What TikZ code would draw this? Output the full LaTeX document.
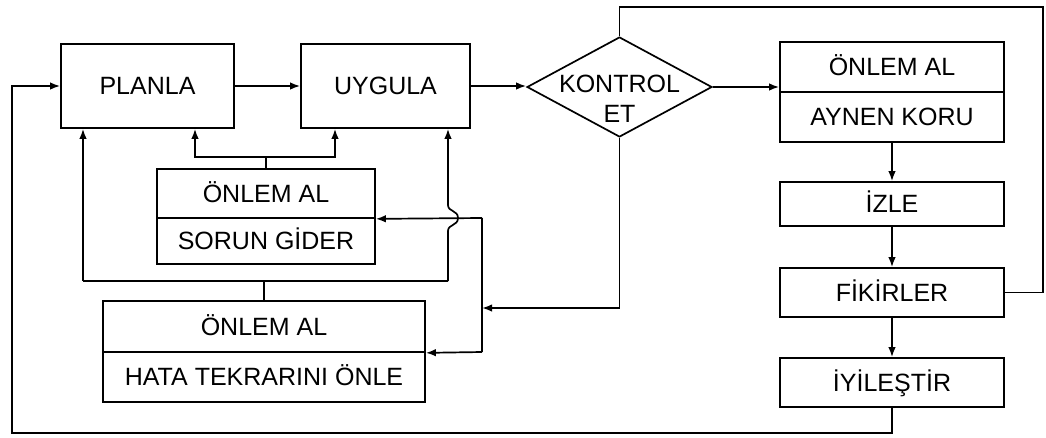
\documentclass[tikz,border=0pt]{standalone}
\usepackage{fontspec}
\setmainfont{Liberation Sans}
\usetikzlibrary{arrows.meta,shapes.geometric}
\begin{document}
\begin{tikzpicture}[x=1pt,y=-1pt,
  txt/.style={font=\fontsize{25}{30}\selectfont},
  box/.style={draw,line width=1.7pt,inner sep=0pt,txt,text height=17.9pt,text depth=0pt},
  ln/.style={line width=1.7pt},
  arr/.style={line width=1.7pt,-{Latex[length=10pt,width=7.5pt]}},
 ]
\useasboundingbox (0,0) rectangle (1046,437);
% main row
\node[box,minimum width=173pt,minimum height=84pt] (planla) at (147.5,86) {PLANLA};
\node[box,minimum width=169pt,minimum height=84pt] (uygula) at (385.5,86) {UYGULA};
\node[draw,line width=1.7pt,diamond,aspect=1.85,minimum width=185pt,minimum height=100pt,inner sep=0pt] (kontrol) at (619.5,87) {};
\node[txt,align=center,inner sep=0pt] (kontroltext) at (619.5,99) {KONTROL\\ET};
% right column
\node[box,minimum width=224pt,minimum height=50pt] (onlemR) at (892,67) {ÖNLEM AL};
\node[box,minimum width=224pt,minimum height=50pt] (aynen) at (892,117) {AYNEN KORU};
\node[box,minimum width=224pt,minimum height=44pt] (izle) at (892,204) {İZLE};
\node[box,minimum width=224pt,minimum height=49pt] (fikirler) at (892,292.5) {FİKİRLER};
\node[box,minimum width=224pt,minimum height=49pt] (iyilestir) at (892,382.5) {İYİLEŞTİR};
% left lower boxes
\node[box,minimum width=218pt,minimum height=49pt] (onlem1) at (266,193.5) {ÖNLEM AL};
\node[box,minimum width=218pt,minimum height=46pt] (sorun) at (266,241) {SORUN GİDER};
\node[box,minimum width=322pt,minimum height=51pt] (onlem2) at (264,326.5) {ÖNLEM AL};
\node[box,minimum width=322pt,minimum height=50pt] (hata) at (264,377) {HATA TEKRARINI ÖNLE};
% coordinates
\coordinate (tr) at (1043,7);
\coordinate (bl) at (12,433);
\coordinate (vmid) at (482,308);
\coordinate (vtop) at (482,218);
\coordinate (vbot) at (482,352);
\coordinate (j1) at (266,157);
\coordinate (p1) at (195,157);
\coordinate (p2) at (335,157);
\coordinate (l1) at (83,281);
\coordinate (l2) at (448,281);
\coordinate (b1) at (448,231);
\coordinate (b2) at (458,218);
\coordinate (b3) at (448,205);
% connectors
\draw[arr] (planla.east) -- (uygula.west);
\draw[arr] (uygula.east) -- (uygula.east -| kontrol.west);
\draw[arr] (kontrol.east) -- (kontrol.east -| onlemR.west);
\draw[arr] (aynen.south) -- (izle.north);
\draw[arr] (izle.south) -- (fikirler.north);
\draw[arr] (fikirler.south) -- (iyilestir.north);
\draw[ln] (fikirler.east) -| (tr) -| (kontrol.north);
\draw[arr] (iyilestir.south) |- (bl) |- (planla.west);
\draw[arr] (kontrol.south) |- (vmid);
\draw[ln] (vtop) -- (vbot);
\draw[arr] (vtop) -- (onlem1.south east);
\draw[arr] (vbot) -- (onlem2.south east);
\draw[ln] (onlem1.north) -- (j1);
\draw[arr] (j1) -- (p1) -- (p1 |- planla.south);
\draw[arr] (j1) -- (p2) -- (p2 |- uygula.south);
\draw[ln] (onlem2.north) -- (onlem2.north |- l1);
\draw[ln] (l1) -- (l2);
\draw[arr] (l1) -- (l1 |- planla.south);
\draw[arr] (l2) -- (b1) .. controls (448,224) and (458,226) .. (b2) .. controls (458,210) and (448,212) .. (b3) -- (b3 |- uygula.south);
\end{tikzpicture}
\end{document}
